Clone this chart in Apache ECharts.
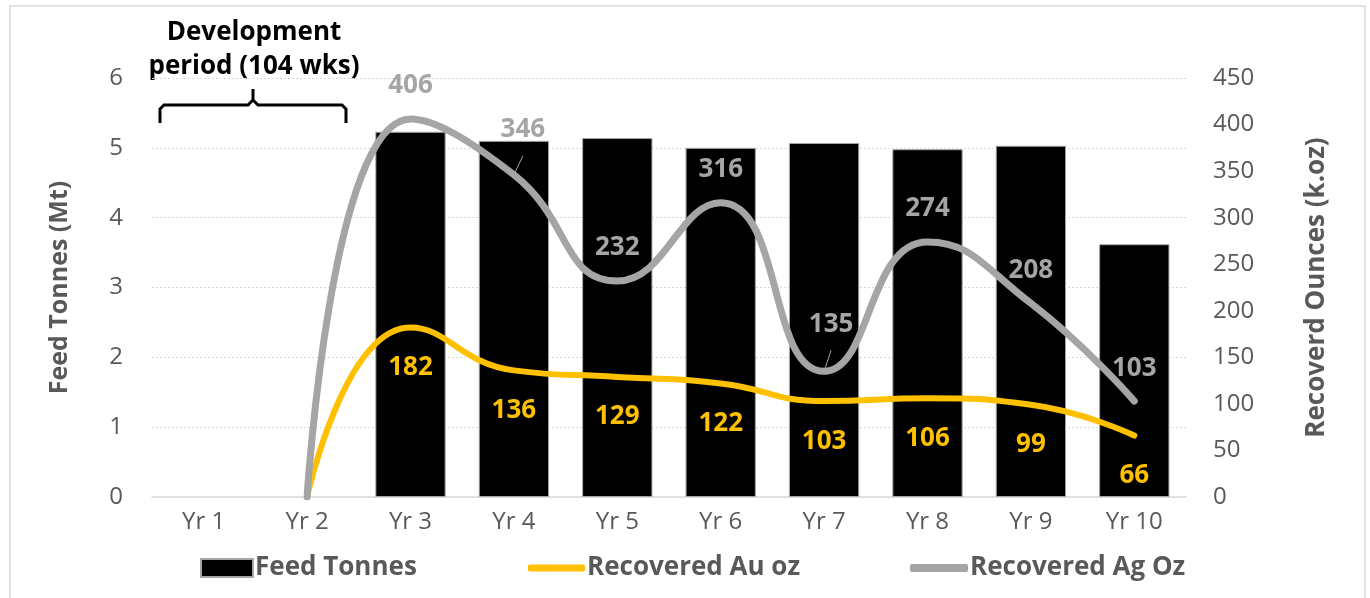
<!DOCTYPE html>
<html>
<head>
<meta charset="utf-8">
<script src="https://cdn.jsdelivr.net/npm/echarts@6/dist/echarts.min.js"></script>
<style>
  html, body { margin: 0; padding: 0; background: #fff; }
  #chart { width: 1370px; height: 598px; }
</style>
</head>
<body>
<div id="chart"></div>
<script>
// 数据
const years = ['Yr 1', 'Yr 2', 'Yr 3', 'Yr 4', 'Yr 5', 'Yr 6', 'Yr 7', 'Yr 8', 'Yr 9', 'Yr 10']
const feedTonnes = [null, null, 5.23, 5.1, 5.14, 5.0, 5.07, 4.98, 5.03, 3.62]
const auOz = [null, 0, 182, 136, 129, 122, 103, 106, 99, 66]
const agOz = [null, 0, 406, 346, 232, 316, 135, 274, 208, 103]

const FONT = '"Open Sans", "Noto Sans", sans-serif'
const GREY_TEXT = '#595959'

const chart = echarts.init(document.getElementById('chart'))

// 数据标签：0 不显示
const hideZero = (p) => (p.value === 0 || p.value == null ? '' : p.value)

// 个别标签位置微调（Yr 4、Yr 7 带引线）
const agLabelOffsets = { 3: [9, -12], 6: [7, -14] }
const agData = agOz.map((v, i) => agLabelOffsets[i]
  ? { value: v, label: { offset: agLabelOffsets[i] }, labelLine: { show: true } }
  : v)

const legendText = { fontFamily: FONT, fontSize: 26, fontWeight: 'bold', color: GREY_TEXT, padding: [0, 0, 0, -3] }

const option = {
  animation: false,
  textStyle: { fontFamily: FONT },
  grid: { left: 152, right: 184, top: 78, bottom: 101 },
  legend: [
    {
      data: ['Feed Tonnes'], left: 200, top: 555, padding: 0,
      itemWidth: 52, itemHeight: 18, icon: 'rect',
      textStyle: legendText
    },
    {
      data: ['Recovered Au oz'], left: 528, top: 555, padding: 0,
      itemWidth: 57, itemHeight: 7, icon: 'roundRect',
      textStyle: legendText
    },
    {
      data: ['Recovered Ag Oz'], left: 910, top: 555, padding: 0,
      itemWidth: 58, itemHeight: 8, icon: 'roundRect',
      textStyle: legendText
    }
  ],
  xAxis: {
    type: 'category',
    data: years,
    axisTick: { show: false },
    axisLine: { lineStyle: { color: '#D9D9D9', width: 1.5 } },
    axisLabel: { fontFamily: FONT, fontSize: 24, color: GREY_TEXT, margin: 13 }
  },
  yAxis: [
    {
      type: 'value', min: 0, max: 6, interval: 1,
      name: 'Feed Tonnes (Mt)', nameLocation: 'middle', nameGap: 80,
      nameTextStyle: { fontFamily: FONT, fontSize: 25, fontWeight: 'bold', color: GREY_TEXT },
      axisLabel: { fontFamily: FONT, fontSize: 24, color: GREY_TEXT, margin: 29 },
      axisLine: { show: false }, axisTick: { show: false },
      splitLine: { lineStyle: { color: '#D9D9D9', type: [2, 2], width: 1 } }
    },
    {
      type: 'value', min: 0, max: 450, interval: 50,
      name: 'Recoverd Ounces (k.oz)', nameLocation: 'middle', nameGap: 118,
      nameTextStyle: { fontFamily: FONT, fontSize: 26, fontWeight: 'bold', color: GREY_TEXT },
      axisLabel: { fontFamily: FONT, fontSize: 24, color: GREY_TEXT, margin: 27 },
      axisLine: { show: false }, axisTick: { show: false },
      splitLine: { show: false }
    }
  ],
  series: [
    {
      name: 'Feed Tonnes', type: 'bar', yAxisIndex: 0,
      data: feedTonnes, barCategoryGap: '32%',
      itemStyle: { color: '#000000', borderColor: '#A6A6A6', borderWidth: 1 }
    },
    {
      name: 'Recovered Au oz', type: 'line', yAxisIndex: 1,
      data: auOz, smooth: 0.5, symbol: 'circle', symbolSize: 0,
      lineStyle: { color: '#FFC000', width: 6, cap: 'round' },
      itemStyle: { color: '#FFC000' },
      label: {
        show: true, position: 'bottom', distance: 27, formatter: hideZero,
        fontFamily: FONT, fontSize: 26, fontWeight: 'bold', color: '#FFC000'
      }
    },
    {
      name: 'Recovered Ag Oz', type: 'line', yAxisIndex: 1,
      data: agData, smooth: 0.5, symbol: 'circle', symbolSize: 0,
      lineStyle: { color: '#A5A5A5', width: 7, cap: 'round' },
      itemStyle: { color: '#A5A5A5' },
      label: {
        show: true, position: 'top', distance: 20, formatter: hideZero,
        fontFamily: FONT, fontSize: 26, fontWeight: 'bold', color: '#A5A5A5'
      },
      labelLine: { show: false, lineStyle: { color: '#A5A5A5', width: 1 } }
    }
  ],
  graphic: [
    // 外框
    {
      type: 'rect', silent: true, z: -1,
      shape: { x: 10, y: 6, width: 1355, height: 600 },
      style: { fill: 'none', stroke: '#D9D9D9', lineWidth: 1.5 }
    },
    // 开发期注释
    {
      type: 'text', silent: true,
      style: {
        text: 'Development\nperiod (104 wks)', x: 254, y: 16,
        align: 'center', lineHeight: 34,
        font: 'bold 26px ' + FONT, fill: '#000'
      }
    },
    {
      type: 'polyline', silent: true,
      shape: { points: [[160, 123], [160, 109], [164, 105], [248, 105], [253, 100], [253, 89], [253, 100], [258, 105], [342, 105], [346, 109], [346, 123]] },
      style: { stroke: '#000', lineWidth: 3, fill: 'none' }
    }
  ]
}

chart.setOption(option)
</script>
</body>
</html>
